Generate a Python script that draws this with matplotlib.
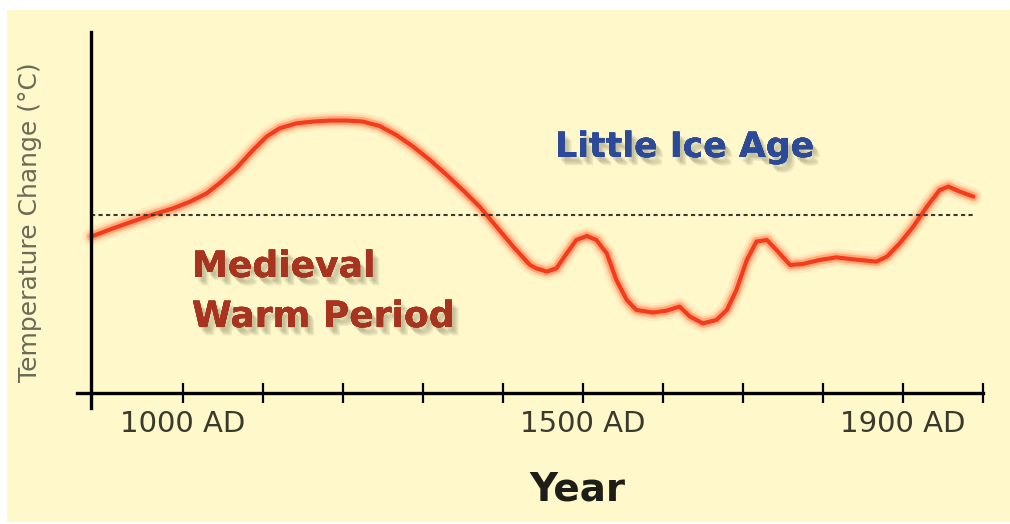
import matplotlib.pyplot as plt
import matplotlib.patheffects as pe
from matplotlib.patches import Rectangle

# curve (year, change in deg C relative to the dotted baseline)
years = [886, 913, 955, 988, 1009, 1030, 1046, 1067, 1088, 1105, 1121, 1142,
         1163, 1184, 1205, 1225, 1246, 1267, 1288, 1309, 1330, 1350, 1371, 1392,
         1413, 1434, 1442, 1455, 1467, 1480, 1492, 1505, 1517, 1530, 1542, 1555,
         1567, 1588, 1605, 1621, 1634, 1650, 1667, 1680, 1692, 1705, 1717, 1730,
         1742, 1759, 1775, 1796, 1817, 1838, 1867, 1880, 1896, 1913, 1930, 1946,
         1957, 1971, 1988]
temps = [-0.108, -0.067, -0.008, 0.033, 0.066, 0.108, 0.158, 0.233, 0.325, 0.392, 0.433, 0.458,
         0.467, 0.472, 0.472, 0.467, 0.445, 0.400, 0.342, 0.275, 0.200, 0.125, 0.042, -0.058,
         -0.158, -0.250, -0.267, -0.283, -0.267, -0.192, -0.125, -0.105, -0.125, -0.192, -0.325, -0.425,
         -0.475, -0.488, -0.478, -0.458, -0.508, -0.542, -0.525, -0.475, -0.375, -0.225, -0.133, -0.125,
         -0.175, -0.250, -0.245, -0.225, -0.212, -0.222, -0.233, -0.208, -0.142, -0.058, 0.042, 0.125,
         0.142, 0.117, 0.092]

tick_years = list(range(1000, 2001, 100))
tick_labels = ["1000 AD", "", "", "", "", "1500 AD", "", "", "", "1900 AD", ""]
baseline = 0.0

bg = "#fff8cb"
ink = "#3a3a2c"

fig = plt.figure(figsize=(10.1, 5.24), dpi=100, facecolor="white")
fig.patches.append(Rectangle((0.0069, 0.0038), 0.9931, 0.977, transform=fig.transFigure,
                             facecolor=bg, edgecolor="none", zorder=-10))

ax = fig.add_axes([0.0762, 0.2214, 0.8970, 0.7176])
ax.set_facecolor("none")

# glowing red curve
for lw, a, c in [(13, 0.10, "#ff8a50"), (9.5, 0.18, "#ff7a48"), (6.5, 0.35, "#ff5a30")]:
    ax.plot(years, temps, color=c, lw=lw, alpha=a, solid_capstyle="round",
            solid_joinstyle="round")
ax.plot(years, temps, color="#f43c1c", lw=3.0, solid_capstyle="round",
        solid_joinstyle="round")

# dotted reference line
ax.plot([years[0], 1990], [baseline, baseline], color="#3a3a30", lw=1.5,
        linestyle=(0, (2, 1.6)))

ax.set_xlim(868, 2000)
ax.set_ylim(-0.965, 0.915)

for side in ["top", "right"]:
    ax.spines[side].set_visible(False)
ax.spines["left"].set_position(("data", 886))
ax.spines["bottom"].set_position(("data", -0.89))
ax.spines["left"].set_linewidth(2.4)
ax.spines["bottom"].set_linewidth(2.4)

ax.set_yticks([])
ax.set_xticks(tick_years)
ax.set_xticklabels(tick_labels)
ax.tick_params(axis="x", direction="inout", length=15, width=1.6, pad=5,
               labelsize=21, labelcolor=ink, color="black")

fig.text(0.030, 0.576, "Temperature Change (°C)", rotation=90, ha="center", va="center",
         fontsize=18, color="#6a6a58")
fig.text(0.572, 0.065, "Year", ha="center", va="center", fontsize=28,
         fontweight="bold", color="#1e1e18")

# soft drop shadow: a few faint offset copies
shadow = [pe.withSimplePatchShadow(offset=o, shadow_rgbFace="#7a7a5a", alpha=0.13)
          for o in [(2, -3), (3, -4), (4, -5), (5, -6)]] + [pe.Normal()]
fig.text(0.5495, 0.7195, "Little Ice Age", ha="left", va="center", fontsize=25,
         fontweight="bold", color="#2c4a98", path_effects=shadow)
fig.text(0.190, 0.4905, "Medieval", ha="left", va="center", fontsize=26,
         fontweight="bold", color="#a8341f", path_effects=shadow)
fig.text(0.190, 0.395, "Warm Period", ha="left", va="center", fontsize=26,
         fontweight="bold", color="#a8341f", path_effects=shadow)

fig.savefig("out.png", dpi=100, facecolor=fig.get_facecolor())
